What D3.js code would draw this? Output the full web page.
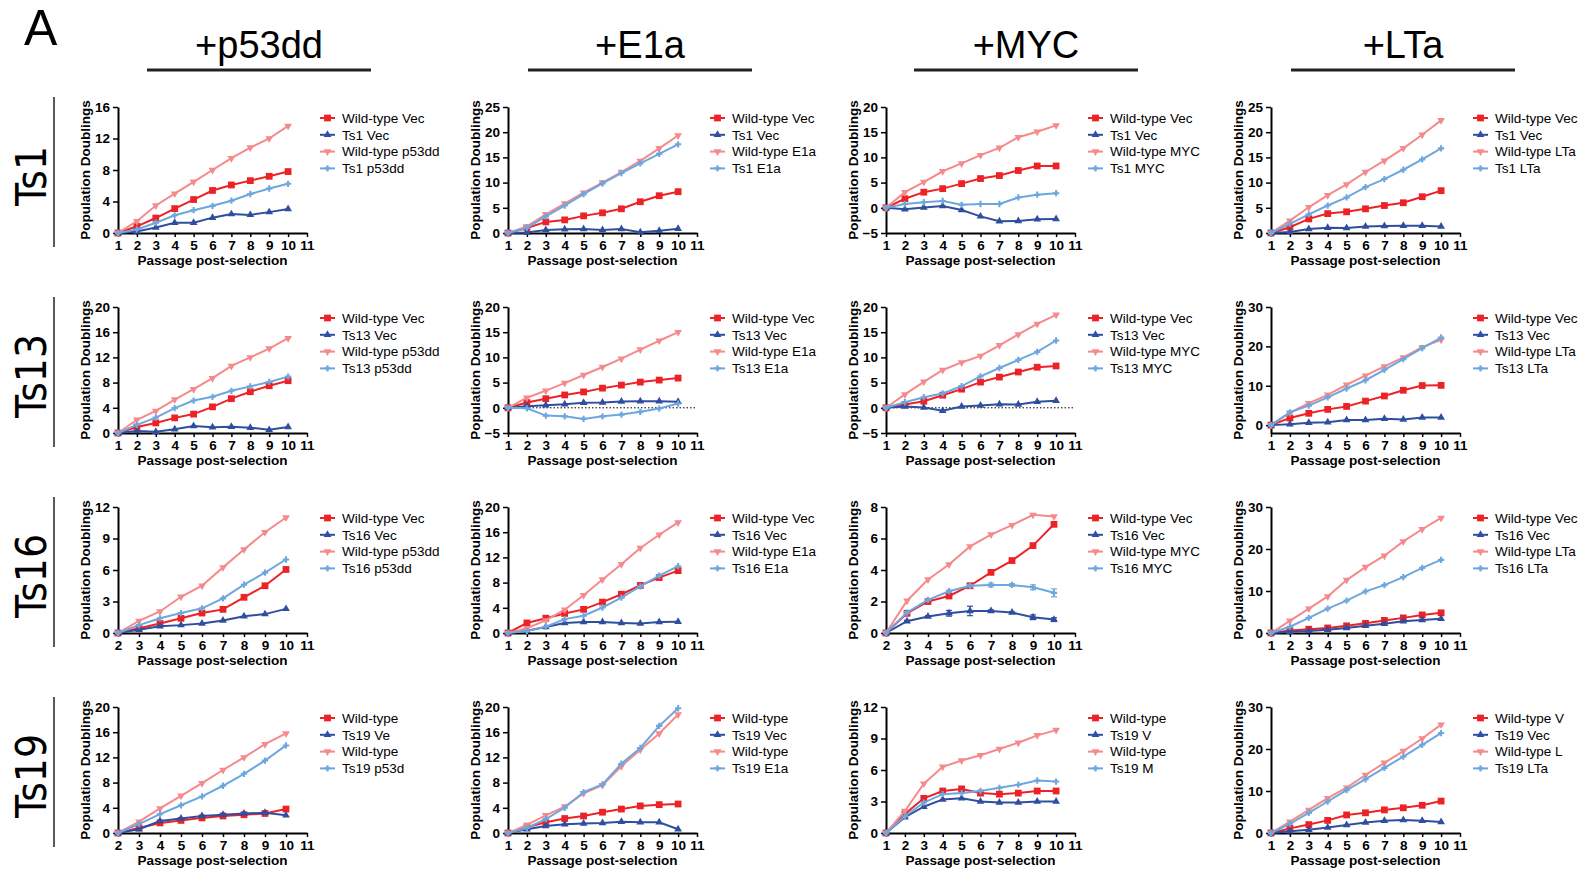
<!DOCTYPE html>
<html>
<head>
<meta charset="utf-8">
<script src="https://cdn.jsdelivr.net/npm/d3@7"></script>
<style>
  body { margin: 0; background: #fff; }
  svg text { font-family: "Liberation Sans", Arial, sans-serif; }
</style>
</head>
<body>
<svg id="fig" width="1593" height="873"></svg>
<script>
// column and row headings
const treatments = ["+p53dd", "+E1a", "+MYC", "+LTa"];
const cellLines = ["Ts1", "Ts13", "Ts16", "Ts19"];

// each panel: [Wild-type Vec, Ts Vec, Wild-type X, Ts X]
const ts1_p53dd = [
    [0, 0.85, 1.9, 3.1, 4.25, 5.4, 6.1, 6.65, 7.2, 7.8],
    [0, 0.2, 0.7, 1.3, 1.3, 1.95, 2.4, 2.3, 2.65, 3.05],
    [0, 1.5, 3.5, 5.0, 6.5, 8.0, 9.5, 10.85, 12.0, 13.6],
    [0, 0.45, 1.3, 2.25, 2.9, 3.45, 4.1, 4.95, 5.65, 6.25]
];
const ts1_e1a = [
    [0, 1.0, 2.2, 2.6, 3.4, 4.0, 4.8, 6.2, 7.4, 8.2],
    [0, 0.1, 0.6, 0.75, 0.8, 0.6, 0.8, 0.15, 0.45, 0.85],
    [0, 1.3, 3.7, 5.85, 8.0, 10.0, 12.1, 14.3, 16.8, 19.35],
    [0, 1.05, 3.3, 5.45, 7.7, 9.85, 11.9, 13.8, 15.7, 17.6]
];
const ts1_myc = [
    [0, 1.8, 3.1, 3.8, 4.8, 5.8, 6.4, 7.4, 8.3, 8.3],
    [0, -0.3, 0.05, 0.35, -0.45, -1.7, -2.65, -2.6, -2.25, -2.2],
    [0, 3.1, 5.1, 7.25, 8.8, 10.45, 11.9, 14.0, 15.1, 16.35],
    [0, 0.75, 1.1, 1.35, 0.6, 0.75, 0.75, 2.05, 2.6, 2.9]
];
const ts1_lta = [
    [0, 1.15, 2.8, 3.85, 4.2, 4.8, 5.45, 6.0, 7.2, 8.4],
    [0, 0.2, 0.8, 1.05, 1.0, 1.3, 1.4, 1.45, 1.45, 1.3],
    [0, 2.45, 5.1, 7.5, 9.65, 12.1, 14.35, 16.8, 19.5, 22.35],
    [0, 1.8, 3.7, 5.45, 7.05, 9.1, 10.7, 12.55, 14.6, 16.8]
];
const ts13_p53dd = [
    [0, 0.95, 1.6, 2.4, 3.0, 4.15, 5.45, 6.55, 7.5, 8.3],
    [0, 0.3, 0.2, 0.6, 1.1, 0.9, 1.0, 0.85, 0.5, 0.95],
    [0, 2.1, 3.5, 5.3, 6.95, 8.7, 10.65, 12.0, 13.4, 15.05],
    [0, 1.3, 2.45, 3.95, 5.15, 5.75, 6.7, 7.4, 8.1, 8.95]
];
const ts13_e1a = [
    [0, 1.05, 1.8, 2.55, 3.15, 3.9, 4.5, 5.1, 5.5, 5.9],
    [0, 0.3, 0.5, 0.7, 1.0, 1.05, 1.25, 1.3, 1.3, 1.2],
    [0, 2.0, 3.4, 4.9, 6.5, 8.1, 9.75, 11.55, 13.3, 15.0],
    [0, -0.1, -1.55, -1.7, -2.2, -1.7, -1.35, -0.8, -0.15, 0.85]
];
const ts13_myc = [
    [0, 0.65, 1.3, 2.5, 3.7, 5.1, 6.1, 7.1, 8.05, 8.3],
    [0, 0.25, 0.05, -0.6, 0.25, 0.45, 0.7, 0.65, 1.2, 1.4],
    [0, 2.65, 5.15, 7.5, 9.0, 10.3, 12.4, 14.55, 16.65, 18.45],
    [0, 1.1, 2.1, 2.85, 4.3, 6.25, 7.9, 9.5, 11.1, 13.35]
];
const ts13_lta = [
    [0, 1.8, 3.0, 4.0, 4.75, 6.1, 7.4, 8.85, 10.05, 10.1],
    [0, 0.25, 0.6, 0.75, 1.3, 1.3, 1.6, 1.45, 1.95, 1.95],
    [0, 3.15, 5.55, 7.7, 10.25, 12.55, 14.9, 17.2, 19.8, 21.65],
    [0, 3.25, 4.95, 7.05, 9.3, 11.4, 14.05, 16.75, 19.55, 22.25]
];
const ts16_p53dd = [
    [0, 0.45, 0.9, 1.4, 1.9, 2.25, 3.4, 4.5, 6.05],
    [0, 0.3, 0.65, 0.75, 0.9, 1.2, 1.6, 1.8, 2.3],
    [0, 1.15, 2.05, 3.45, 4.5, 6.25, 7.95, 9.6, 11.0],
    [0, 0.75, 1.4, 1.9, 2.35, 3.3, 4.6, 5.75, 7.0]
];
const ts16_e1a = [
    [0, 1.6, 2.35, 3.1, 3.75, 4.9, 6.15, 7.55, 8.8, 9.9],
    [0, 0.35, 0.95, 1.6, 1.75, 1.75, 1.6, 1.5, 1.75, 1.8],
    [0, 0.75, 2.0, 3.7, 6.0, 8.5, 10.9, 13.5, 15.6, 17.55],
    [0, 0.3, 1.0, 2.2, 2.75, 4.05, 5.6, 7.4, 9.1, 10.6]
];
const ts16_myc = [
    [0, 1.25, 2.0, 2.35, 3.0, 3.85, 4.6, 5.55, 6.9],
    [0, 0.75, 1.05, 1.25, 1.4, 1.4, 1.3, 1.0, 0.85],
    [0, 2.05, 3.4, 4.35, 5.5, 6.25, 6.85, 7.5, 7.4],
    [0, 1.3, 2.1, 2.65, 3.0, 3.05, 3.05, 2.9, 2.55]
];
// error bars (Ts16 MYC panel only)
const ts16_myc_err = [
    [0, 0, 0, 0, 0, 0, 0, 0, 0],
    [0, 0.05, 0.05, 0.18, 0.3, 0.07, 0.05, 0.15, 0.12],
    [0, 0, 0, 0, 0, 0, 0, 0, 0],
    [0, 0.05, 0.05, 0.07, 0.08, 0.12, 0.08, 0.15, 0.25]
];
const ts16_lta = [
    [0, 0.6, 0.9, 1.2, 1.7, 2.3, 3.0, 3.6, 4.3, 4.8],
    [0, 0.3, 0.5, 0.8, 1.2, 1.7, 2.2, 2.8, 3.1, 3.4],
    [0, 2.9, 5.8, 8.7, 12.6, 15.7, 18.4, 21.8, 24.7, 27.4],
    [0, 1.5, 3.6, 5.8, 7.7, 9.9, 11.4, 13.3, 15.5, 17.4]
];
const ts19_p53dd = [
    [0, 0.8, 1.6, 2.0, 2.4, 2.7, 2.9, 3.1, 3.8],
    [0, 0.6, 1.9, 2.3, 2.7, 2.9, 3.1, 3.2, 2.8],
    [0, 1.8, 3.9, 5.9, 7.9, 10.0, 12.0, 14.1, 15.8],
    [0, 1.4, 3.0, 4.4, 5.8, 7.5, 9.4, 11.5, 13.9]
];
const ts19_e1a = [
    [0, 0.9, 1.7, 2.3, 2.7, 3.3, 3.8, 4.3, 4.5, 4.6],
    [0, 0.6, 1.1, 1.4, 1.5, 1.6, 1.8, 1.7, 1.7, 0.6],
    [0, 1.3, 2.8, 4.2, 6.3, 7.6, 10.6, 13.2, 15.8, 18.8],
    [0, 0.8, 2.2, 4.0, 6.5, 7.7, 11.0, 13.5, 17.0, 19.8]
];
const ts19_myc = [
    [0, 1.8, 3.3, 4.0, 4.2, 3.8, 3.7, 3.8, 4.0, 4.0],
    [0, 1.5, 2.5, 3.2, 3.3, 3.0, 2.9, 2.9, 3.0, 3.0],
    [0, 2.1, 4.7, 6.3, 6.9, 7.4, 8.0, 8.6, 9.3, 9.8],
    [0, 1.6, 2.9, 3.7, 3.8, 4.0, 4.3, 4.6, 5.0, 4.9]
];
const ts19_lta = [
    [0, 1.1, 2.0, 3.0, 4.3, 4.8, 5.5, 6.0, 6.6, 7.6],
    [0, 0.4, 0.8, 1.3, 1.9, 2.5, 2.9, 3.1, 2.9, 2.6],
    [0, 2.7, 5.5, 8.3, 10.8, 13.8, 16.7, 19.5, 22.5, 25.8],
    [0, 2.2, 4.8, 7.5, 10.2, 12.8, 15.5, 18.2, 21.0, 23.8]
];

const panelData = [
    [ts1_p53dd, ts1_e1a, ts1_myc, ts1_lta],
    [ts13_p53dd, ts13_e1a, ts13_myc, ts13_lta],
    [ts16_p53dd, ts16_e1a, ts16_myc, ts16_lta],
    [ts19_p53dd, ts19_e1a, ts19_myc, ts19_lta]
];

// first passage on the x axis
const xStarts = [[1, 1, 1, 1], [1, 1, 1, 1], [2, 1, 2, 1], [2, 1, 1, 1]];

// y tick labels and y domains
const yTicks = [
    [[0, 4, 8, 12, 16], [0, 5, 10, 15, 20, 25], [-5, 0, 5, 10, 15, 20], [0, 5, 10, 15, 20, 25]],
    [[0, 4, 8, 12, 16, 20], [-5, 0, 5, 10, 15, 20], [-5, 0, 5, 10, 15, 20], [0, 10, 20, 30]],
    [[0, 3, 6, 9, 12], [0, 4, 8, 12, 16, 20], [0, 2, 4, 6, 8], [0, 10, 20, 30]],
    [[0, 4, 8, 12, 16, 20], [0, 4, 8, 12, 16, 20], [0, 3, 6, 9, 12], [0, 10, 20, 30]]
];
const yDomains = [
    [[0, 16], [0, 25], [-5, 20], [0, 25]],
    [[0, 20], [-5, 20], [-5, 20], [-2, 30]],
    [[0, 12], [0, 20], [0, 8], [0, 30]],
    [[0, 20], [0, 20], [0, 12], [0, 30]]
];
// panels with a dotted zero line
const zeroLines = [[false, false, false, false], [false, true, true, false],
                   [false, false, false, false], [false, false, false, false]];

// legend labels (the last row is clipped in the original)
const legendLabels = [
    [["Wild-type Vec", "Ts1 Vec", "Wild-type p53dd", "Ts1 p53dd"],
     ["Wild-type Vec", "Ts1 Vec", "Wild-type E1a", "Ts1 E1a"],
     ["Wild-type Vec", "Ts1 Vec", "Wild-type MYC", "Ts1 MYC"],
     ["Wild-type Vec", "Ts1 Vec", "Wild-type LTa", "Ts1 LTa"]],
    [["Wild-type Vec", "Ts13 Vec", "Wild-type p53dd", "Ts13 p53dd"],
     ["Wild-type Vec", "Ts13 Vec", "Wild-type E1a", "Ts13 E1a"],
     ["Wild-type Vec", "Ts13 Vec", "Wild-type MYC", "Ts13 MYC"],
     ["Wild-type Vec", "Ts13 Vec", "Wild-type LTa", "Ts13 LTa"]],
    [["Wild-type Vec", "Ts16 Vec", "Wild-type p53dd", "Ts16 p53dd"],
     ["Wild-type Vec", "Ts16 Vec", "Wild-type E1a", "Ts16 E1a"],
     ["Wild-type Vec", "Ts16 Vec", "Wild-type MYC", "Ts16 MYC"],
     ["Wild-type Vec", "Ts16 Vec", "Wild-type LTa", "Ts16 LTa"]],
    [["Wild-type", "Ts19 Ve", "Wild-type", "Ts19 p53d"],
     ["Wild-type", "Ts19 Vec", "Wild-type", "Ts19 E1a"],
     ["Wild-type", "Ts19 V", "Wild-type", "Ts19 M"],
     ["Wild-type V", "Ts19 Vec", "Wild-type L", "Ts19 LTa"]]
];

// layout
const colX = [118, 508, 886, 1271];
const rowY = [107, 307, 507, 707];
const plotW = 189, plotH = 126;
const titleX = [259, 640, 1026, 1403];

const colors = ["#ec2227", "#2f4e9f", "#f58a8c", "#6ea7de"];
const symbols = [d3.symbolSquare, d3.symbolTriangle, d3.symbolTriangle, d3.symbolCross];
const symSizes = [46, 26, 26, 22];
const symRot = [0, 0, 180, 0];

const svg = d3.select("#fig");

// panel letter
svg.append("text")
    .attr("x", 24).attr("y", 45)
    .attr("font-size", 50)
    .text("A");

// column titles
treatments.forEach((t, c) => {
    svg.append("text")
        .attr("x", titleX[c]).attr("y", 58)
        .attr("text-anchor", "middle")
        .attr("font-size", 38)
        .text(t);
    svg.append("line")
        .attr("x1", titleX[c] - 112).attr("x2", titleX[c] + 112)
        .attr("y1", 70).attr("y2", 70)
        .attr("stroke", "#222").attr("stroke-width", 3);
});

// row titles
cellLines.forEach((name, r) => {
    const mid = rowY[r] + plotH / 2 + 6;
    svg.append("text")
        .attr("transform", `translate(46,${mid}) rotate(-90)`)
        .attr("text-anchor", "middle")
        .attr("font-size", 38)
        .style("font-family", "'Liberation Sans Narrow', 'DejaVu Sans Condensed', sans-serif")
        .attr("font-size", 42)
        .text(name);
    svg.append("line")
        .attr("x1", 54).attr("x2", 54)
        .attr("y1", rowY[r] - 10).attr("y2", rowY[r] + plotH + 14)
        .attr("stroke", "#222").attr("stroke-width", 1.5);
});

function drawPanel(r, c) {
    const data = panelData[r][c];
    const x0 = colX[c], y0 = rowY[r];
    const xStart = xStarts[r][c];
    const g = svg.append("g");

    const x = d3.scaleLinear().domain([xStart, 11]).range([x0, x0 + plotW]);
    const y = d3.scaleLinear().domain(yDomains[r][c]).range([y0 + plotH, y0]);

    if (zeroLines[r][c]) {
        g.append("line")
            .attr("x1", x(xStart)).attr("x2", x(11))
            .attr("y1", y(0)).attr("y2", y(0))
            .attr("stroke", "#000").attr("stroke-width", 1)
            .attr("stroke-dasharray", "1.5,2");
    }

    // axes
    const yAxis = g.append("g")
        .attr("transform", `translate(${x0},0)`)
        .call(d3.axisLeft(y).tickValues(yTicks[r][c]).tickSize(5).tickSizeOuter(0).tickPadding(3));
    const xAxis = g.append("g")
        .attr("transform", `translate(0,${y0 + plotH})`)
        .call(d3.axisBottom(x).tickValues(d3.range(xStart, 12)).tickSize(4).tickSizeOuter(0).tickPadding(3));
    [yAxis, xAxis].forEach(a => {
        a.select(".domain").attr("stroke", "#000").attr("stroke-width", 2);
        a.selectAll(".tick line").attr("stroke", "#000").attr("stroke-width", 1.5);
        a.selectAll(".tick text")
            .attr("fill", "#000")
            .attr("font-size", 13.5)
            .attr("font-weight", "bold")
            .attr("font-family", "'Liberation Sans', Arial, sans-serif");
    });

    // axis titles
    g.append("text")
        .attr("transform", `translate(${x0 - 28},${y0 + plotH / 2}) rotate(-90)`)
        .attr("text-anchor", "middle")
        .attr("font-size", 13.5).attr("font-weight", "bold")
        .text("Population Doublings");
    g.append("text")
        .attr("x", x0 + plotW / 2).attr("y", y0 + plotH + 32)
        .attr("text-anchor", "middle")
        .attr("font-size", 13.5).attr("font-weight", "bold")
        .text("Passage post-selection");

    const line = d3.line()
        .x((d, i) => x(xStart + i))
        .y(d => y(d));

    data.forEach((vals, s) => {
        const err = (r === 2 && c === 2) ? ts16_myc_err[s] : null;
        if (err) {
            vals.forEach((v, i) => {
                if (!err[i]) return;
                const cx = x(xStart + i);
                const eg = g.append("g").attr("stroke", colors[s]).attr("stroke-width", 1.2);
                eg.append("line").attr("x1", cx).attr("x2", cx)
                    .attr("y1", y(v - err[i])).attr("y2", y(v + err[i]));
                eg.append("line").attr("x1", cx - 3).attr("x2", cx + 3)
                    .attr("y1", y(v - err[i])).attr("y2", y(v - err[i]));
                eg.append("line").attr("x1", cx - 3).attr("x2", cx + 3)
                    .attr("y1", y(v + err[i])).attr("y2", y(v + err[i]));
            });
        }
        g.append("path")
            .datum(vals)
            .attr("d", line)
            .attr("fill", "none")
            .attr("stroke", colors[s])
            .attr("stroke-width", 2);
        g.selectAll(null)
            .data(vals)
            .enter()
            .append("path")
            .attr("d", d3.symbol().type(symbols[s]).size(symSizes[s]))
            .attr("transform", (d, i) => `translate(${x(xStart + i)},${y(d)}) rotate(${symRot[s]})`)
            .attr("fill", colors[s]);
    });

    // legend
    const lx = x0 + plotW;
    legendLabels[r][c].forEach((lab, s) => {
        const ly = y0 + 11 + s * 16.8;
        g.append("line")
            .attr("x1", lx + 13).attr("x2", lx + 28)
            .attr("y1", ly).attr("y2", ly)
            .attr("stroke", colors[s]).attr("stroke-width", 2);
        g.append("path")
            .attr("d", d3.symbol().type(symbols[s]).size(symSizes[s]))
            .attr("transform", `translate(${lx + 20.5},${ly}) rotate(${symRot[s]})`)
            .attr("fill", colors[s]);
        g.append("text")
            .attr("x", lx + 35).attr("y", ly)
            .attr("dy", "0.36em")
            .attr("font-size", 13.5)
            .text(lab);
    });
}

for (let r = 0; r < 4; r++) {
    for (let c = 0; c < 4; c++) {
        drawPanel(r, c);
    }
}
</script>
</body>
</html>
